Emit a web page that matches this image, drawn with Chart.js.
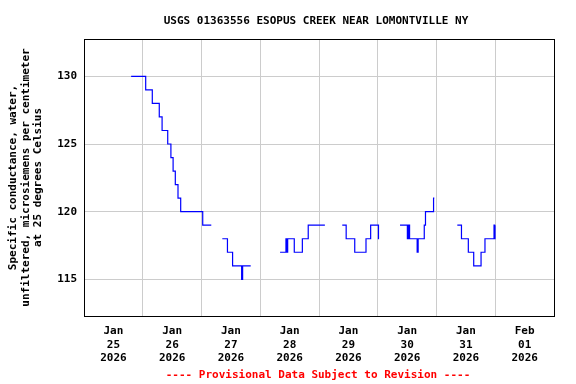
<!DOCTYPE html>
<html><head><meta charset="utf-8">
<script src="https://cdn.jsdelivr.net/npm/chart.js@4.4.1/dist/chart.umd.min.js"></script>
<style>html,body{margin:0;padding:0;background:#fff}</style>
</head><body>
<canvas id="c" width="576" height="384"></canvas>
<script>
// Hours since Jan 25 2026 00:00; value holds until the next point (null = gap)
const hours = [
  19.25, 25.2, 27.9, 30.75, 31.9, 34.2, 35.5, 36.4, 37.3, 38.4, 39.5, 48.5, 52.0,
  54,
  56.5, 58.6, 60.7, 64.4, 64.8, 68.1,
  74,
  80.1, 82.5, 82.9, 83.2, 85.9, 89.2, 91.6, 98.4,
  102,
  105.5, 107.1, 110.6, 115.2, 117.1, 120.3, 120.5,
  125,
  129.1, 132.1, 132.6, 133.0, 136.1, 136.5, 139.0, 139.5, 142.8, 143.1,
  148,
  152.5, 154.2, 157.0, 159.2, 162.2, 163.8, 167.5, 167.7, 167.9, 168.0
];
const values = [
  130, 129, 128, 127, 126, 125, 124, 123, 122, 121, 120, 119, 119,
  null,
  118, 117, 116, 115, 116, 116,
  null,
  117, 118, 117, 118, 117, 118, 119, 119,
  null,
  119, 118, 117, 118, 119, 118, 118,
  null,
  119, 118, 119, 118, 117, 118, 119, 120, 121, 121,
  null,
  119, 118, 117, 116, 117, 118, 119, 118, 119, 119
];
const tickHours = [12, 36, 60, 84, 108, 132, 156, 180];
const tickLabels = [
  ['Jan','25','2026'], ['Jan','26','2026'], ['Jan','27','2026'], ['Jan','28','2026'],
  ['Jan','29','2026'], ['Jan','30','2026'], ['Jan','31','2026'], ['Feb','01','2026']
];
const gridHours = [24, 48, 72, 96, 120, 144, 168];
const yTicks = [115, 120, 125, 130];
const titleText = 'USGS 01363556 ESOPUS CREEK NEAR LOMONTVILLE NY';
const yTitleLines = ['Specific conductance, water,', 'unfiltered, microsiemens per centimeter', 'at 25 degrees Celsius'];
const footerText = '---- Provisional Data Subject to Revision ----';

const FONT = '"DejaVu Sans Mono", monospace';
const fontSpec = {family: FONT, size: 11, weight: 'bold', lineHeight: 1.2};

const allX = [];
for (let h = 0; h <= 192; h += 12) allX.push(h);

const decor = {
  id: 'decor',
  afterDatasetsDraw(chart) {
    const {ctx, chartArea: a} = chart;
    ctx.save();
    ctx.strokeStyle = '#000';
    ctx.lineWidth = 1;
    ctx.strokeRect(Math.round(a.left) + 0.5, Math.round(a.top) + 0.5,
                   Math.round(a.right - a.left), Math.round(a.bottom - a.top));
    ctx.restore();
  },
  afterDraw(chart) {
    const {ctx, chartArea: a} = chart;
    ctx.save();
    ctx.font = 'bold 11px ' + FONT;
    ctx.fillStyle = '#000';
    ctx.textAlign = 'center';
    ctx.textBaseline = 'middle';
    ctx.fillText(titleText, 316, 21);
    ctx.fillStyle = '#ff0000';
    ctx.fillText(footerText, 318, 375);
    ctx.fillStyle = '#000';
    const cy = (a.top + a.bottom) / 2;
    const xs = [13, 26, 38];
    yTitleLines.forEach((t, i) => {
      ctx.save();
      ctx.translate(xs[i], cy);
      ctx.rotate(-Math.PI / 2);
      ctx.fillText(t, 0, 0);
      ctx.restore();
    });
    ctx.restore();
  }
};

new Chart(document.getElementById('c'), {
  type: 'line',
  data: {
    datasets: [{
      data: hours.map((h, i) => ({x: h, y: values[i]})),
      stepped: 'before',
      borderColor: '#0000ff',
      borderWidth: 1.2,
      pointRadius: 0,
      fill: false,
      spanGaps: false
    }]
  },
  options: {
    responsive: false,
    animation: false,
    devicePixelRatio: 1,
    layout: {padding: {top: 39, right: 22, left: 0, bottom: 0}},
    plugins: {legend: {display: false}, tooltip: {enabled: false}, title: {display: false}},
    scales: {
      x: {
        type: 'linear', min: 0, max: 192,
        afterBuildTicks: s => { s.ticks = allX.map(v => ({value: v})); },
        afterFit: s => { s.height = 68; },
        grid: {
          color: c => (c.tick && gridHours.includes(c.tick.value)) ? '#cccccc' : 'rgba(0,0,0,0)',
          drawTicks: false, lineWidth: 1
        },
        border: {display: false},
        ticks: {
          autoSkip: false, maxRotation: 0, minRotation: 0, color: '#000', padding: 9,
          font: fontSpec,
          callback: v => { const i = tickHours.indexOf(v); return i >= 0 ? tickLabels[i] : ''; }
        }
      },
      y: {
        min: 112.29, max: 132.76,
        afterBuildTicks: s => { s.ticks = yTicks.map(v => ({value: v})); },
        afterFit: s => { s.width = 84; },
        grid: {color: '#cccccc', drawTicks: false, lineWidth: 1},
        border: {display: false},
        ticks: {color: '#000', padding: 7, font: fontSpec}
      }
    }
  },
  plugins: [decor]
});
</script>
</body></html>
